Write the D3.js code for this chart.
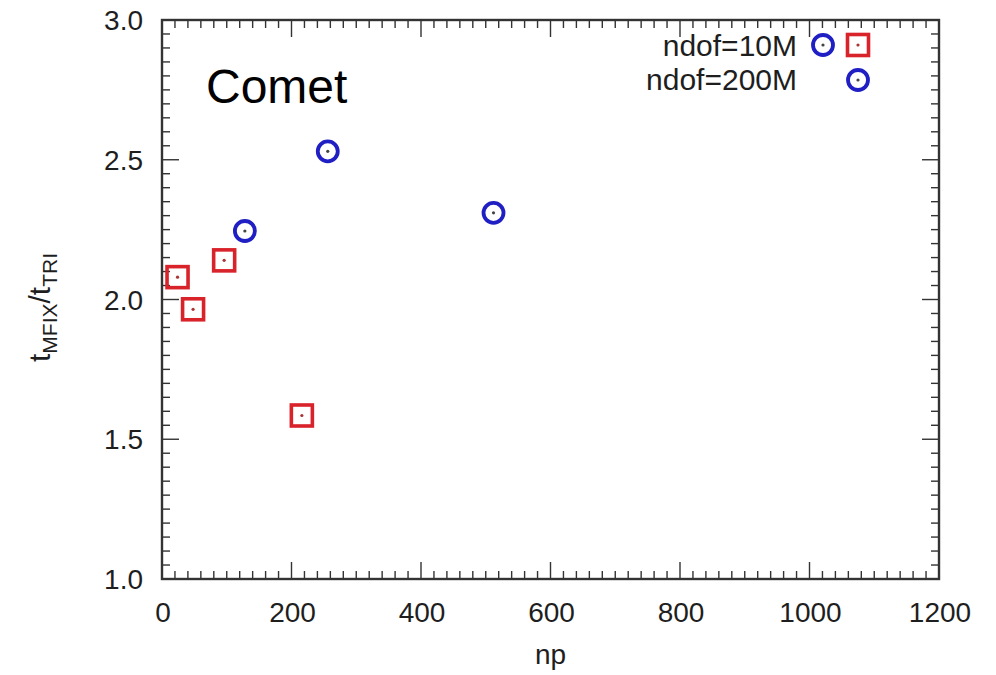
<!DOCTYPE html>
<html>
<head>
<meta charset="utf-8">
<script src="https://cdn.jsdelivr.net/npm/d3@7"></script>
<style>
  body { margin: 0; background: #fff; }
  svg text { font-family: "Liberation Sans", Arial, sans-serif; }
</style>
</head>
<body>
<div id="chart"></div>
<script>
// data
const np10M = [24, 48, 96, 216];
const ratio10M = [2.08, 1.965, 2.14, 1.585];
const np200M = [128, 256, 512];
const ratio200M = [2.245, 2.53, 2.31];
const xTicks = [0, 200, 400, 600, 800, 1000, 1200];
const yTicks = [1.0, 1.5, 2.0, 2.5, 3.0];

const width = 996, height = 675;
const margin = { left: 162, right: 57, top: 20, bottom: 96 };

const svg = d3.select('#chart').append('svg')
    .attr('width', width)
    .attr('height', height);

const x = d3.scaleLinear().domain([0, 1200]).range([margin.left, width - margin.right]);
const y = d3.scaleLinear().domain([1, 3]).range([height - margin.bottom, margin.top]);

const axisColor = '#333';
const textColor = '#1e1e1e';
const g = svg.append('g');

// minor + major ticks on all four sides
const xMinor = d3.range(0, 1201, 20);
const yMinor = d3.range(1, 3.0001, 0.05);
const isMajorX = v => Math.abs(v % 200) < 1e-6;
const isMajorY = v => Math.abs(Math.round(v * 2) - v * 2) < 1e-6;

g.selectAll('.xt').data(xMinor).join('line')
    .attr('x1', d => x(d)).attr('x2', d => x(d))
    .attr('y1', y(1)).attr('y2', d => y(1) - (isMajorX(d) ? 17 : 8))
    .attr('stroke', axisColor).attr('stroke-width', 1.4);
g.selectAll('.xtt').data(xMinor).join('line')
    .attr('x1', d => x(d)).attr('x2', d => x(d))
    .attr('y1', y(3)).attr('y2', d => y(3) + (isMajorX(d) ? 17 : 8))
    .attr('stroke', axisColor).attr('stroke-width', 1.4);
g.selectAll('.yt').data(yMinor).join('line')
    .attr('y1', d => y(d)).attr('y2', d => y(d))
    .attr('x1', x(0)).attr('x2', d => x(0) + (isMajorY(d) ? 17 : 8))
    .attr('stroke', axisColor).attr('stroke-width', 1.4);
g.selectAll('.ytr').data(yMinor).join('line')
    .attr('y1', d => y(d)).attr('y2', d => y(d))
    .attr('x1', x(1200)).attr('x2', d => x(1200) - (isMajorY(d) ? 17 : 8))
    .attr('stroke', axisColor).attr('stroke-width', 1.4);

// frame
g.append('rect')
    .attr('x', x(0)).attr('y', y(3))
    .attr('width', x(1200) - x(0)).attr('height', y(1) - y(3))
    .attr('fill', 'none').attr('stroke', axisColor).attr('stroke-width', 2.4);

// tick labels
g.selectAll('.xl').data(xTicks).join('text')
    .attr('x', d => x(d) + 1).attr('y', y(1) + 43)
    .attr('text-anchor', 'middle')
    .attr('font-size', 28).attr('fill', textColor)
    .text(d => d);
g.selectAll('.yl').data(yTicks).join('text')
    .attr('x', x(0) - 19).attr('y', d => y(d) + 10)
    .attr('text-anchor', 'end')
    .attr('font-size', 28).attr('fill', textColor)
    .text(d => d.toFixed(1));

// axis titles
svg.append('text')
    .attr('x', x(600)).attr('y', 664)
    .attr('text-anchor', 'middle')
    .attr('font-size', 28).attr('fill', textColor)
    .text('np');

const yt = svg.append('text')
    .attr('transform', `translate(50, ${y(2) + 8}) rotate(-90)`)
    .attr('text-anchor', 'middle')
    .attr('font-size', 30).attr('fill', textColor);
yt.append('tspan').text('t');
yt.append('tspan').attr('font-size', 21).attr('dy', 7).text('MFIX');
yt.append('tspan').attr('dy', -7).text('/t');
yt.append('tspan').attr('font-size', 21).attr('dy', 7).text('TRI');

// annotation
svg.append('text')
    .attr('x', 206).attr('y', 103)
    .attr('font-size', 48).attr('fill', '#000')
    .text('Comet');

const red = '#d9232b', blue = '#1f1fc4';

function square(sel, cx, cy) {
    sel.append('rect')
        .attr('x', cx - 10.5).attr('y', cy - 10.5)
        .attr('width', 21).attr('height', 21)
        .attr('fill', 'none').attr('stroke', red).attr('stroke-width', 3.6);
    sel.append('circle').attr('cx', cx).attr('cy', cy).attr('r', 1.6).attr('fill', '#a33');
}
function ring(sel, cx, cy) {
    sel.append('circle').attr('cx', cx).attr('cy', cy).attr('r', 10)
        .attr('fill', 'none').attr('stroke', blue).attr('stroke-width', 3.8);
    sel.append('circle').attr('cx', cx).attr('cy', cy).attr('r', 1.6).attr('fill', '#444');
}

const pts = svg.append('g');
np10M.forEach((d, i) => square(pts, x(d), y(ratio10M[i])));
np200M.forEach((d, i) => ring(pts, x(d), y(ratio200M[i])));

// legend
const leg = svg.append('g');
leg.append('text').attr('x', 797).attr('y', 56)
    .attr('text-anchor', 'end').attr('font-size', 30).attr('fill', textColor).text('ndof=10M');
leg.append('text').attr('x', 797).attr('y', 90)
    .attr('text-anchor', 'end').attr('font-size', 30).attr('fill', textColor).text('ndof=200M');
ring(leg, 823, 45);
square(leg, 858, 45);
ring(leg, 858, 80);
</script>
</body>
</html>
